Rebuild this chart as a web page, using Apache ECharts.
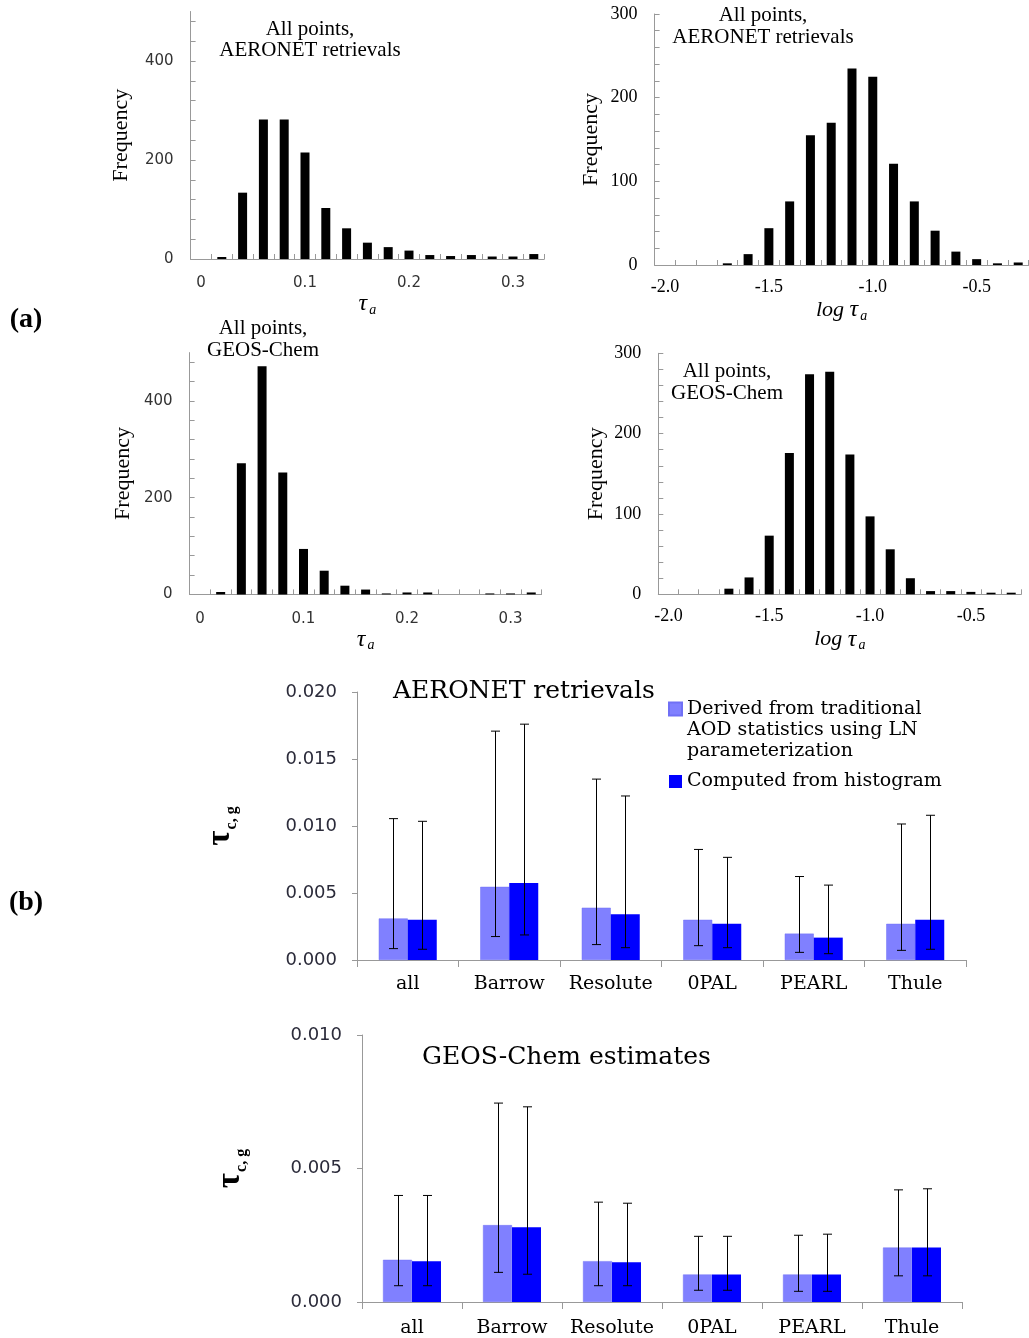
<!DOCTYPE html>
<html>
<head>
<meta charset="utf-8">
<script src="https://cdn.jsdelivr.net/npm/echarts@6/dist/echarts.min.js"></script>
<style>
html,body{margin:0;padding:0;background:#fff;}
#chart{width:1029px;height:1338px;}
</style>
</head>
<body>
<div id="chart"></div>
<script>
// ---------- data ----------
const tauCats = ['0','0.02','0.04','0.06','0.08','0.1','0.12','0.14','0.16','0.18','0.2','0.22','0.24','0.26','0.28','0.3','0.32'];
const logCats = ['-2.0','-1.9','-1.8','-1.7','-1.6','-1.5','-1.4','-1.3','-1.2','-1.1','-1.0','-0.9','-0.8','-0.7','-0.6','-0.5','-0.4','-0.3'];

const aeronetTauFreq = [0, 4, 134, 282, 282, 215, 103, 62, 33, 24, 17, 8, 6, 8, 5, 5, 10];
const aeronetLogFreq = [0, 0, 0, 2, 13, 44, 76, 155, 170, 235, 225, 121, 76, 41, 16, 7, 2, 3];
const geosTauFreq    = [0, 5, 271, 472, 252, 94, 49, 18, 10, 2, 4, 4, 0, 0, 2, 2, 4];
const geosLogFreq    = [0, 0, 0, 7, 21, 73, 176, 274, 277, 174, 97, 56, 20, 4, 4, 3, 2, 2];

const freqTicks500  = [0, 40, 80, 120, 160, 200, 240, 280, 320, 360, 400, 440, 480];
const freqLabels500 = [0, 200, 400];
const freqTicks300  = [0, 20, 40, 60, 80, 100, 120, 140, 160, 180, 200, 220, 240, 260, 280, 300];
const freqLabels300 = [0, 100, 200, 300];

const stations = ['all', 'Barrow', 'Resolute', '0PAL', 'PEARL', 'Thule'];

const aerLN       = [0.0031, 0.00546, 0.0039, 0.0030, 0.00197, 0.0027];
const aerLNLow    = [0.00085, 0.00175, 0.00115, 0.00107, 0.00057, 0.00072];
const aerLNHigh   = [0.01055, 0.01708, 0.0135, 0.00825, 0.00623, 0.01015];
const aerHist     = [0.0030, 0.00574, 0.00342, 0.0027, 0.00167, 0.0030];
const aerHistLow  = [0.0008, 0.00187, 0.00092, 0.00092, 0.00047, 0.0008];
const aerHistHigh = [0.01035, 0.0176, 0.01224, 0.00766, 0.00559, 0.0108];

const geoLN       = [0.00158, 0.00288, 0.00153, 0.00103, 0.00103, 0.00204];
const geoLNLow    = [0.00061, 0.00111, 0.00061, 0.00044, 0.0004, 0.00098];
const geoLNHigh   = [0.00399, 0.00745, 0.00374, 0.00246, 0.0025, 0.0042];
const geoHist     = [0.00153, 0.0028, 0.00149, 0.00103, 0.00103, 0.00204];
const geoHistLow  = [0.00061, 0.00104, 0.00061, 0.00044, 0.0004, 0.00098];
const geoHistHigh = [0.00399, 0.00731, 0.0037, 0.00246, 0.00254, 0.00424];

const LN_NAME = 'Derived from traditional\nAOD statistics using LN\nparameterization';
const HIST_NAME = 'Computed from histogram';

// ---------- styles ----------
const SERIF = 'Liberation Serif';
const WIDE_SERIF = 'DejaVu Serif';
const SANS = 'DejaVu Sans';
const AXIS_GRAY = '#999999';
const LIGHT_BLUE = '#8080ff';
const DARK_BLUE = '#0000ff';
const PAIR_BAR_W = 29;

const chart = echarts.init(document.getElementById('chart'), null, {renderer: 'canvas'});

function histX(gridIndex, cats, labelFont, labelSize, labelColor, nameText, nameRich, nameGap, margin) {
  return {
    type: 'category', gridIndex, data: cats,
    axisLine: {lineStyle: {color: AXIS_GRAY, width: 1}},
    axisTick: {show: true, inside: true, length: 5, interval: 0, lineStyle: {color: AXIS_GRAY}},
    axisLabel: {interval: (i) => i % 5 === 0, fontFamily: labelFont, fontSize: labelSize, color: labelColor, margin},
    splitLine: {show: false},
    name: nameText, nameLocation: 'middle', nameGap,
    nameTextStyle: {rich: nameRich}
  };
}
function histY(gridIndex, max, ticks, labels, labelFont, labelSize, labelColor, nameGap) {
  return {
    type: 'value', gridIndex, min: 0, max,
    axisLine: {show: true, lineStyle: {color: AXIS_GRAY, width: 1}},
    axisTick: {show: true, inside: true, length: 5, customValues: ticks, lineStyle: {color: AXIS_GRAY}},
    axisLabel: {customValues: labels, fontFamily: labelFont, fontSize: labelSize, color: labelColor, margin: 17},
    splitLine: {show: false},
    name: 'Frequency', nameLocation: 'middle', nameRotate: 90, nameGap,
    nameTextStyle: {fontFamily: SERIF, fontSize: 22, color: '#000'}
  };
}
const tauRich = {
  t: {fontFamily: SERIF, fontStyle: 'italic', fontSize: 24, lineHeight: 26, color: '#000'},
  s: {fontFamily: SERIF, fontStyle: 'italic', fontSize: 14, lineHeight: 12, verticalAlign: 'bottom', color: '#000', padding: [0, 0, 0, 2]}
};
const logRich = {
  l: {fontFamily: SERIF, fontStyle: 'italic', fontSize: 22, lineHeight: 26, color: '#000'},
  t: tauRich.t, s: tauRich.s
};
const tcgRich = {
  t: {fontFamily: SERIF, fontWeight: 'bold', fontSize: 33, lineHeight: 40, color: '#000'},
  s: {fontFamily: SERIF, fontWeight: 'bold', fontSize: 16, lineHeight: 10, verticalAlign: 'bottom', color: '#000', padding: [0, 0, 0, 1]}
};

function pairX(gridIndex, margin) {
  return {
    type: 'category', gridIndex, data: stations,
    axisLine: {lineStyle: {color: AXIS_GRAY, width: 1}},
    axisTick: {show: true, inside: false, length: 7, interval: 0, lineStyle: {color: AXIS_GRAY}},
    axisLabel: {interval: 0, fontFamily: WIDE_SERIF, fontSize: 19, color: '#000', margin},
    splitLine: {show: false}
  };
}
function pairY(gridIndex, max, nameGap) {
  return {
    type: 'value', gridIndex, min: 0, max, interval: 0.005,
    axisLine: {show: true, lineStyle: {color: AXIS_GRAY, width: 1}},
    axisTick: {show: true, inside: false, length: 5, lineStyle: {color: AXIS_GRAY}},
    axisLabel: {fontFamily: SANS, fontSize: 18, color: '#2b2b3a', margin: 20, formatter: (v) => v.toFixed(3)},
    splitLine: {show: false},
    name: '{t|τ}{s|c, g}', nameLocation: 'middle', nameRotate: 90, nameGap,
    nameTextStyle: {rich: tcgRich}
  };
}

function errSeries(name, xIdx, yIdx, lows, highs, offset) {
  return {
    type: 'custom', name, xAxisIndex: xIdx, yAxisIndex: yIdx, z: 10, silent: true,
    encode: {x: 0, y: [1, 2]},
    data: lows.map((lo, i) => [i, lo, highs[i]]),
    renderItem: function (params, api) {
      const pLo = api.coord([api.value(0), api.value(1)]);
      const pHi = api.coord([api.value(0), api.value(2)]);
      const cx = Math.round(pLo[0] + offset) + 0.5;
      const cap = 4.5;
      const st = {stroke: '#000', lineWidth: 1};
      return {type: 'group', children: [
        {type: 'line', shape: {x1: cx, y1: pLo[1], x2: cx, y2: pHi[1]}, style: st},
        {type: 'line', shape: {x1: cx - cap, y1: pLo[1], x2: cx + cap, y2: pLo[1]}, style: st},
        {type: 'line', shape: {x1: cx - cap, y1: pHi[1], x2: cx + cap, y2: pHi[1]}, style: st}
      ]};
    }
  };
}

function histBar(name, idx, data) {
  return {type: 'bar', name, xAxisIndex: idx, yAxisIndex: idx, data, barWidth: 9, itemStyle: {color: '#000'}, silent: true};
}

const option = {
  animation: false,
  backgroundColor: '#fff',
  grid: [
    {left: 190.6, top: 11.5, width: 353.6, height: 247.5},
    {left: 654.6, top: 14, width: 374, height: 251},
    {left: 189.6, top: 352.6, width: 352, height: 241.8},
    {left: 658.3, top: 353.3, width: 363, height: 241},
    {left: 357, top: 692, width: 609, height: 268},
    {left: 362, top: 1035, width: 600, height: 267}
  ],
  xAxis: [
    histX(0, tauCats, SANS, 15, '#333', '{t|τ}{s|a}', tauRich, 21, 17),
    histX(1, logCats, SERIF, 18, '#000', '{l|log }{t|τ}{s|a}', logRich, 32, 13),
    histX(2, tauCats, SANS, 15, '#333', '{t|τ}{s|a}', tauRich, 22, 17),
    histX(3, logCats, SERIF, 18, '#000', '{l|log }{t|τ}{s|a}', logRich, 32, 13),
    pairX(4, 15),
    pairX(5, 17)
  ],
  yAxis: [
    histY(0, 500, freqTicks500, freqLabels500, SANS, 15, '#333', 58),
    histY(1, 300, freqTicks300, freqLabels300, SERIF, 18, '#000', 52),
    histY(2, 500, freqTicks500, freqLabels500, SANS, 15, '#333', 55),
    histY(3, 300, freqTicks300, freqLabels300, SERIF, 18, '#000', 51),
    pairY(4, 0.02, 117),
    pairY(5, 0.01, 112)
  ],
  legend: {
    orient: 'vertical', left: 668, top: 656.5, padding: 0,
    itemWidth: 13, itemHeight: 13, itemGap: 9.5, icon: 'rect', selectedMode: false,
    textStyle: {fontFamily: WIDE_SERIF, fontSize: 19, lineHeight: 21, color: '#000'},
    formatter: (name) => (name === LN_NAME ? '\n\n' + name : name),
    data: [LN_NAME, HIST_NAME]
  },
  series: [
    histBar('AERONET τa', 0, aeronetTauFreq),
    histBar('AERONET log τa', 1, aeronetLogFreq),
    histBar('GEOS-Chem τa', 2, geosTauFreq),
    histBar('GEOS-Chem log τa', 3, geosLogFreq),

    {type: 'bar', name: LN_NAME, xAxisIndex: 4, yAxisIndex: 4, data: aerLN, barWidth: PAIR_BAR_W, barGap: '0%',
     itemStyle: {color: LIGHT_BLUE, borderColor: '#7070f5', borderWidth: 0.5}, silent: true},
    {type: 'bar', name: HIST_NAME, xAxisIndex: 4, yAxisIndex: 4, data: aerHist, barWidth: PAIR_BAR_W, barGap: '0%',
     itemStyle: {color: DARK_BLUE}, silent: true},
    errSeries('AERONET LN range', 4, 4, aerLNLow, aerLNHigh, -PAIR_BAR_W / 2),
    errSeries('AERONET histogram range', 4, 4, aerHistLow, aerHistHigh, PAIR_BAR_W / 2),

    {type: 'bar', name: LN_NAME, xAxisIndex: 5, yAxisIndex: 5, data: geoLN, barWidth: PAIR_BAR_W, barGap: '0%',
     itemStyle: {color: LIGHT_BLUE, borderColor: '#7070f5', borderWidth: 0.5}, silent: true},
    {type: 'bar', name: HIST_NAME, xAxisIndex: 5, yAxisIndex: 5, data: geoHist, barWidth: PAIR_BAR_W, barGap: '0%',
     itemStyle: {color: DARK_BLUE}, silent: true},
    errSeries('GEOS-Chem LN range', 5, 5, geoLNLow, geoLNHigh, -PAIR_BAR_W / 2),
    errSeries('GEOS-Chem histogram range', 5, 5, geoHistLow, geoHistHigh, PAIR_BAR_W / 2)
  ],
  graphic: [
    {type: 'text', x: 310, y: 39.5, style: {text: 'All points,\nAERONET retrievals', fontFamily: SERIF, fontSize: 21, lineHeight: 21, align: 'center', verticalAlign: 'middle', fill: '#000'}},
    {type: 'text', x: 763, y: 26, style: {text: 'All points,\nAERONET retrievals', fontFamily: SERIF, fontSize: 21, lineHeight: 22, align: 'center', verticalAlign: 'middle', fill: '#000'}},
    {type: 'text', x: 263, y: 339, style: {text: 'All points,\nGEOS-Chem', fontFamily: SERIF, fontSize: 21, lineHeight: 22, align: 'center', verticalAlign: 'middle', fill: '#000'}},
    {type: 'text', x: 727, y: 382, style: {text: 'All points,\nGEOS-Chem', fontFamily: SERIF, fontSize: 21, lineHeight: 22, align: 'center', verticalAlign: 'middle', fill: '#000'}},
    {type: 'text', x: 26, y: 320, style: {text: '(a)', fontFamily: SERIF, fontWeight: 'bold', fontSize: 28, align: 'center', verticalAlign: 'middle', fill: '#000'}},
    {type: 'text', x: 26, y: 903, style: {text: '(b)', fontFamily: SERIF, fontWeight: 'bold', fontSize: 28, align: 'center', verticalAlign: 'middle', fill: '#000'}},
    {type: 'text', x: 393, y: 691, style: {text: 'AERONET retrievals', fontFamily: WIDE_SERIF, fontSize: 25, align: 'left', verticalAlign: 'middle', fill: '#000'}},
    {type: 'text', x: 422, y: 1057, style: {text: 'GEOS-Chem estimates', fontFamily: WIDE_SERIF, fontSize: 25, align: 'left', verticalAlign: 'middle', fill: '#000'}}
  ]
};
chart.setOption(option);
</script>
</body>
</html>
